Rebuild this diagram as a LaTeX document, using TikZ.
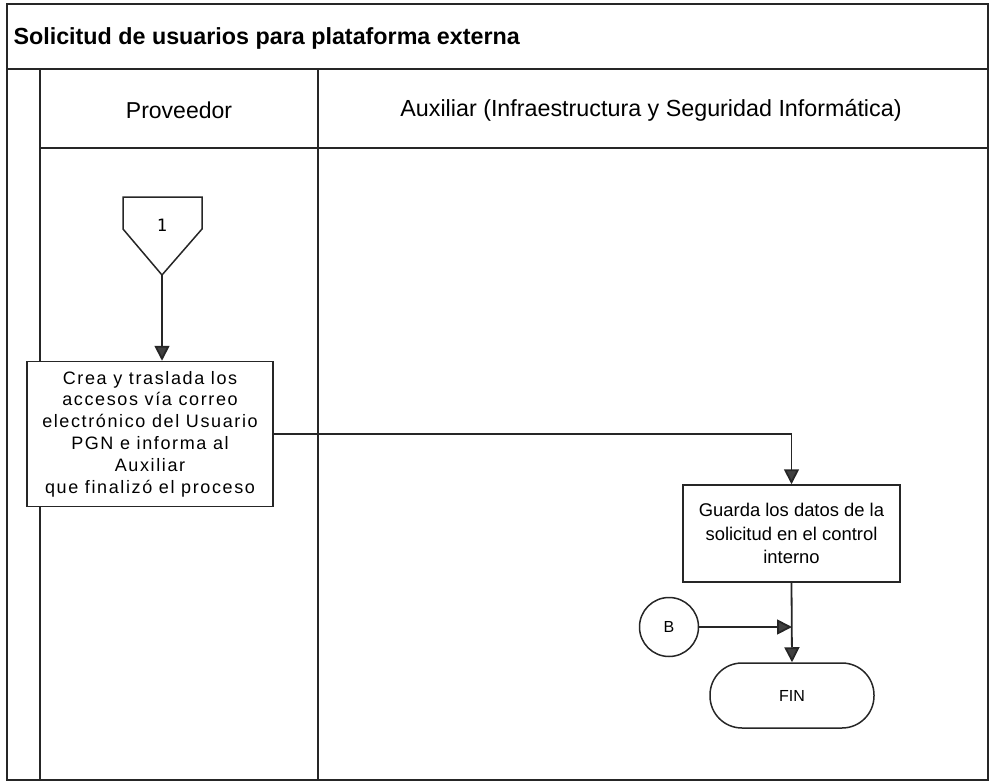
\documentclass[tikz,border=0pt]{standalone}
\usepackage{fontspec}
\setmainfont{Liberation Sans}
\newfontfamily\boxfont{Liberation Sans}[LetterSpace=9]
\newfontfamily\monofont{DejaVu Sans Mono}
\usetikzlibrary{arrows.meta}
\begin{document}
\begin{tikzpicture}[x=1pt,y=-1pt,
  frame/.style={line width=1.8pt,draw=black!85},
  shp/.style={draw=black!85,line width=1.5pt,fill=white},
  procbox/.style={shp,rectangle,align=center,inner sep=2pt},
  conn/.style={draw=black!85,line width=1.8pt},
  arr/.style={conn,-{Triangle[width=15pt,length=15pt,fill=black!75]}},
]
\useasboundingbox (0,0) rectangle (989,782);
% frame and lanes
\draw[frame] (7,4) rectangle (988,780);
\draw[frame] (7,69) -- (988,69);
\draw[frame] (40,69) -- (40,780);
\draw[frame] (40,148) -- (988,148);
\draw[frame] (318,69) -- (318,780);
\node[anchor=west,font=\bfseries\fontsize{23.3}{26}\selectfont] (title) at (10,38) {Solicitud de usuarios para plataforma externa};
\node[font=\fontsize{23}{26}\selectfont] (lane1) at (179,110) {Proveedor};
\node[font=\fontsize{23.3}{26}\selectfont] (lane2) at (651,110) {Auxiliar (Infraestructura y Seguridad Informática)};
% off-page connector 1
\draw[shp] (123,197) -- (202,197) -- (202,229) -- (162,275) -- (123,229) -- cycle;
\node[font=\monofont\fontsize{17}{19}\selectfont] (p1) at (162,225) {1};
\coordinate (p1tip) at (162,275);
% process boxes
\node[procbox,minimum width=246pt,minimum height=145pt,font=\boxfont\fontsize{18}{21.8}\selectfont] (crea) at (150,434)
  {Crea y traslada los\\accesos vía correo\\electrónico del Usuario\\PGN e informa al\\Auxiliar\\que finalizó el proceso};
\node[procbox,minimum width=217pt,minimum height=97pt,font=\fontsize{18.4}{23.5}\selectfont] (guarda) at (791.5,533.5)
  {Guarda los datos de la\\solicitud en el control\\interno};
\node[shp,rectangle,rounded corners=32pt,minimum width=164pt,minimum height=65pt,font=\fontsize{16}{18}\selectfont] (fin) at (792,695.5) {FIN};
\node[shp,circle,minimum size=59pt,inner sep=0pt,font=\fontsize{16}{18}\selectfont] (b) at (669,627) {B};
\coordinate (jn) at (fin.north |- b);
% connectors
\draw[arr] (p1tip) -- (crea.north -| p1tip);
\draw[arr] (crea.east) -- (crea.east -| guarda.north) -- (guarda.north);
\draw[arr] (guarda.south) -- (fin.north);
\draw[arr] (b.east) -- (jn);
\end{tikzpicture}
\end{document}
